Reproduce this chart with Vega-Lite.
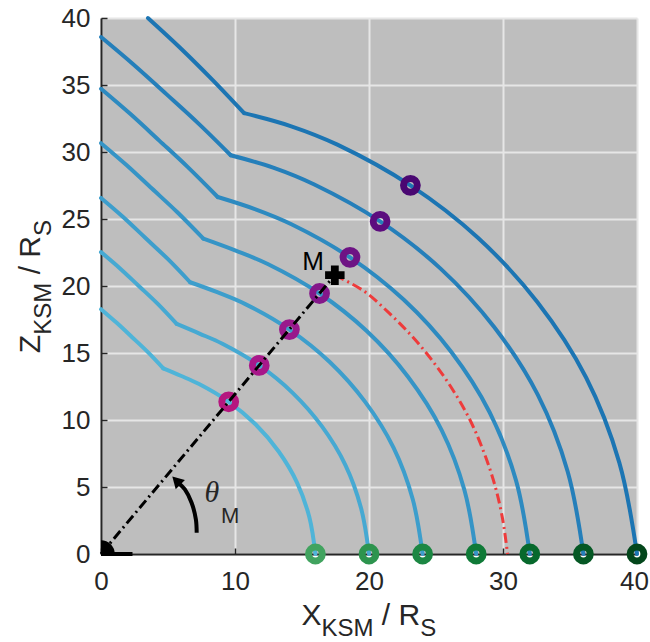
{
  "$schema": "https://vega.github.io/schema/vega-lite/v6.json",
  "width": 536,
  "height": 536,
  "autosize": {"type": "none"},
  "padding": {"left": 101, "top": 18, "right": 13, "bottom": 88},
  "background": "white",
  "config": {
    "view": {"fill": "#bebebe", "stroke": null},
    "axis": {"title": null, "grid": true, "gridColor": "#e6e6e6", "gridWidth": 2, "domainColor": "#262626", "domainWidth": 2, "ticks": true, "tickSize": -6, "tickColor": "#262626", "tickWidth": 1.5, "labelFont": "Liberation Sans", "labelFontSize": 26, "labelColor": "#262626", "labelFlush": false, "labelOverlap": false},
    "axisX": {"labelPadding": 20},
    "axisY": {"labelPadding": 17}
  },
  "datasets": {
    "curves": [
      {"F":16,"s":0,"i":0,"x":16,"z":0},{"F":16,"s":0,"i":1,"x":15.55,"z":2.74},{"F":16,"s":0,"i":2,"x":14.63,"z":5.33},{"F":16,"s":0,"i":3,"x":13.26,"z":7.65},{"F":16,"s":0,"i":4,"x":11.53,"z":9.68},{"F":16,"s":0,"i":5,"x":9.53,"z":11.36},{"F":16,"s":0,"i":6,"x":7.32,"z":12.68},{"F":16,"s":0,"i":7,"x":5.95,"z":13.3},{"F":16,"s":0,"i":8,"x":4.65,"z":13.85},
      {"F":16,"s":1,"i":8,"x":4.65,"z":13.85},{"F":16,"s":1,"i":9,"x":3.5,"z":15.06},{"F":16,"s":1,"i":10,"x":2.3,"z":16.2},{"F":16,"s":1,"i":11,"x":1.15,"z":17.27},{"F":16,"s":1,"i":12,"x":0,"z":18.27},
      {"F":20,"s":0,"i":0,"x":20,"z":0},{"F":20,"s":0,"i":1,"x":19.41,"z":3.42},{"F":20,"s":0,"i":2,"x":18.24,"z":6.64},{"F":20,"s":0,"i":3,"x":16.49,"z":9.52},{"F":20,"s":0,"i":4,"x":14.32,"z":12.01},{"F":20,"s":0,"i":5,"x":11.81,"z":14.07},{"F":20,"s":0,"i":6,"x":9.06,"z":15.69},{"F":20,"s":0,"i":7,"x":7.35,"z":16.45},{"F":20,"s":0,"i":8,"x":5.65,"z":17.17},
      {"F":20,"s":1,"i":8,"x":5.65,"z":17.17},{"F":20,"s":1,"i":9,"x":4.2,"z":18.7},{"F":20,"s":1,"i":10,"x":2.8,"z":20.02},{"F":20,"s":1,"i":11,"x":1.4,"z":21.33},{"F":20,"s":1,"i":12,"x":0,"z":22.53},
      {"F":24,"s":0,"i":0,"x":24,"z":0},{"F":24,"s":0,"i":1,"x":23.26,"z":4.1},{"F":24,"s":0,"i":2,"x":21.83,"z":7.94},{"F":24,"s":0,"i":3,"x":19.7,"z":11.37},{"F":24,"s":0,"i":4,"x":17.07,"z":14.33},{"F":24,"s":0,"i":5,"x":14.06,"z":16.75},{"F":24,"s":0,"i":6,"x":10.77,"z":18.65},{"F":24,"s":0,"i":7,"x":8.72,"z":19.52},{"F":24,"s":0,"i":8,"x":6.65,"z":20.28},
      {"F":24,"s":1,"i":8,"x":6.65,"z":20.28},{"F":24,"s":1,"i":9,"x":5.0,"z":22.0},{"F":24,"s":1,"i":10,"x":3.3,"z":23.6},{"F":24,"s":1,"i":11,"x":1.65,"z":25.15},{"F":24,"s":1,"i":12,"x":0,"z":26.57},
      {"F":28,"s":0,"i":0,"x":28,"z":0},{"F":28,"s":0,"i":1,"x":27.12,"z":4.78},{"F":28,"s":0,"i":2,"x":25.42,"z":9.25},{"F":28,"s":0,"i":3,"x":22.91,"z":13.23},{"F":28,"s":0,"i":4,"x":19.83,"z":16.64},{"F":28,"s":0,"i":5,"x":16.31,"z":19.44},{"F":28,"s":0,"i":6,"x":12.48,"z":21.62},{"F":28,"s":0,"i":7,"x":10.1,"z":22.62},{"F":28,"s":0,"i":8,"x":7.64,"z":23.53},
      {"F":28,"s":1,"i":8,"x":7.64,"z":23.53},{"F":28,"s":1,"i":9,"x":5.7,"z":25.5},{"F":28,"s":1,"i":10,"x":3.8,"z":27.27},{"F":28,"s":1,"i":11,"x":1.9,"z":29.03},{"F":28,"s":1,"i":12,"x":0,"z":30.66},
      {"F":32,"s":0,"i":0,"x":32,"z":0},{"F":32,"s":0,"i":1,"x":30.98,"z":5.46},{"F":32,"s":0,"i":2,"x":29.01,"z":10.56},{"F":32,"s":0,"i":3,"x":26.13,"z":15.09},{"F":32,"s":0,"i":4,"x":22.6,"z":18.97},{"F":32,"s":0,"i":5,"x":18.58,"z":22.14},{"F":32,"s":0,"i":6,"x":14.21,"z":24.61},{"F":32,"s":0,"i":7,"x":11.48,"z":25.74},{"F":32,"s":0,"i":8,"x":8.71,"z":26.64},
      {"F":32,"s":1,"i":8,"x":8.71,"z":26.64},{"F":32,"s":1,"i":9,"x":6.5,"z":28.85},{"F":32,"s":1,"i":10,"x":4.35,"z":30.85},{"F":32,"s":1,"i":11,"x":2.2,"z":32.83},{"F":32,"s":1,"i":12,"x":0,"z":34.72},
      {"F":36,"s":0,"i":0,"x":36,"z":0},{"F":36,"s":0,"i":1,"x":34.83,"z":6.14},{"F":36,"s":0,"i":2,"x":32.6,"z":11.87},{"F":36,"s":0,"i":3,"x":29.34,"z":16.94},{"F":36,"s":0,"i":4,"x":25.36,"z":21.28},{"F":36,"s":0,"i":5,"x":20.83,"z":24.82},{"F":36,"s":0,"i":6,"x":15.92,"z":27.57},{"F":36,"s":0,"i":7,"x":12.85,"z":28.83},{"F":36,"s":0,"i":8,"x":9.68,"z":29.76},
      {"F":36,"s":1,"i":8,"x":9.68,"z":29.76},{"F":36,"s":1,"i":9,"x":7.3,"z":32.1},{"F":36,"s":1,"i":10,"x":4.9,"z":34.3},{"F":36,"s":1,"i":11,"x":2.4,"z":36.55},{"F":36,"s":1,"i":12,"x":0,"z":38.58},
      {"F":40,"s":0,"i":0,"x":40,"z":0},{"F":40,"s":0,"i":1,"x":38.68,"z":6.82},{"F":40,"s":0,"i":2,"x":36.2,"z":13.17},{"F":40,"s":0,"i":3,"x":32.56,"z":18.8},{"F":40,"s":0,"i":4,"x":28.13,"z":23.6},{"F":40,"s":0,"i":5,"x":23.09,"z":27.51},{"F":40,"s":0,"i":6,"x":17.64,"z":30.55},{"F":40,"s":0,"i":7,"x":14.2,"z":31.92},{"F":40,"s":0,"i":8,"x":10.68,"z":32.9},
      {"F":40,"s":1,"i":8,"x":10.68,"z":32.9},{"F":40,"s":1,"i":9,"x":8.3,"z":35.4},{"F":40,"s":1,"i":10,"x":5.9,"z":37.78},{"F":40,"s":1,"i":11,"x":3.5,"z":40}
    ],
    "diag": [
      {"F":16,"x":9.53,"z":11.36},{"F":20,"x":11.81,"z":14.07},{"F":24,"x":14.06,"z":16.75},{"F":28,"x":16.31,"z":19.44},{"F":32,"x":18.58,"z":22.14},{"F":36,"x":20.83,"z":24.82},{"F":40,"x":23.09,"z":27.51}
    ],
    "foot": [
      {"F":16,"x":16,"z":0},{"F":20,"x":20,"z":0},{"F":24,"x":24,"z":0},{"F":28,"x":28,"z":0},{"F":32,"x":32,"z":0},{"F":36,"x":36,"z":0},{"F":40,"x":40,"z":0}
    ],
    "redarc": [
      {"i":0,"x":17.45,"z":20.81},{"i":1,"x":19.62,"z":19.62},{"i":2,"x":21.47,"z":18.01},{"i":3,"x":23.21,"z":16.25},{"i":4,"x":24.81,"z":14.32},{"i":5,"x":26.26,"z":12.24},{"i":6,"x":27.53,"z":10.02},{"i":7,"x":28.55,"z":7.65},{"i":8,"x":29.38,"z":5.18},{"i":9,"x":29.97,"z":2.62},{"i":10,"x":30.34,"z":0}
    ],
    "mline": [
      {"i":0,"x":0,"z":0},{"i":1,"x":17.45,"z":20.81}
    ],
    "arrow": [
      {"i":0,"x":7.14,"z":1.58},{"i":1,"x":7.08,"z":2.58},{"i":2,"x":6.76,"z":3.83},{"i":3,"x":6.26,"z":4.82},{"i":4,"x":5.85,"z":5.25}
    ],
    "arrowhead": [{"x":5.62,"z":5.48}],
    "mpoint": [{"x":17.45,"z":20.81}],
    "saturn": [{"x":0,"z":0}],
    "rings": [{"i":0,"x":0,"z":0},{"i":1,"x":2.35,"z":0}],
    "mlabel": [{"t":"M","x":15.83,"z":21.21}],
    "titlemain": [
      {"t":"X","x":14.97,"z":-5.27},{"t":"/","x":20.96,"z":-5.27},{"t":"R","x":22.21,"z":-5.27}
    ],
    "titlesub": [
      {"t":"KSM","x":16.46,"z":-6.09},{"t":"S","x":23.83,"z":-6.09}
    ],
    "ytitlemain": [
      {"t":"Z","x":-4.55,"z":14.99},{"t":"/","x":-4.55,"z":20.87},{"t":"R","x":-4.55,"z":22.11}
    ],
    "ytitlesub": [
      {"t":"KSM","x":-3.73,"z":16.36},{"t":"S","x":-3.73,"z":23.74}
    ],
    "theta": [{"t":"θ","x":7.72,"z":3.85}],
    "thetasub": [{"t":"M","x":8.95,"z":2.28}]
  },
  "encoding": {
    "x": {"field": "x", "type": "quantitative", "scale": {"domain": [0, 40], "nice": false}, "axis": {"values": [0,10,20,30,40], "labelOffset": {"condition": {"test": "datum.value === 40", "value": -3}, "value": 0}}},
    "y": {"field": "z", "type": "quantitative", "scale": {"domain": [0, 40], "nice": false}, "axis": {"values": [0,5,10,15,20,25,30,35,40]}}
  },
  "layer": [
    {
      "data": {"name": "curves"},
      "mark": {"type": "line", "strokeWidth": 4, "strokeCap": "round", "strokeJoin": "round", "interpolate": "catmull-rom"},
      "encoding": {
        "stroke": {"field": "F", "type": "ordinal", "legend": null, "scale": {"domain": [16,20,24,28,32,36,40], "range": ["#4fb4d8","#46a9d2","#3d9ecc","#3594c6","#2d8ac0","#257fba","#1c75b3"]}},
        "detail": {"field": "s", "type": "nominal"},
        "order": {"field": "i", "type": "quantitative"}
      }
    },
    {
      "data": {"name": "redarc"},
      "mark": {"type": "line", "stroke": "#ee3b3b", "strokeWidth": 3, "strokeDash": [10, 4, 2, 4], "interpolate": "catmull-rom"},
      "encoding": {"order": {"field": "i", "type": "quantitative"}}
    },
    {
      "data": {"name": "diag"},
      "mark": {"type": "point", "shape": "circle", "filled": false, "size": 190, "strokeWidth": 7, "opacity": 1},
      "encoding": {
        "stroke": {"field": "F", "type": "ordinal", "legend": null, "scale": {"domain": [16,20,24,28,32,36,40], "range": ["#b5177f","#a8178a","#99198c","#84178a","#6e1384","#5c0c7e","#4a0872"]}}
      }
    },
    {
      "data": {"name": "foot"},
      "mark": {"type": "point", "shape": "circle", "filled": false, "size": 190, "strokeWidth": 7, "opacity": 1},
      "encoding": {
        "stroke": {"field": "F", "type": "ordinal", "legend": null, "scale": {"domain": [16,20,24,28,32,36,40], "range": ["#41a35f","#2d944e","#1c8743","#0f7a37","#07692c","#055824","#03461b"]}}
      }
    },
    {
      "data": {"name": "mline"},
      "mark": {"type": "line", "stroke": "black", "strokeWidth": 3, "strokeDash": [10, 4, 2, 4]},
      "encoding": {"order": {"field": "i", "type": "quantitative"}}
    },
    {
      "data": {"name": "arrow"},
      "mark": {"type": "line", "stroke": "black", "strokeWidth": 4, "interpolate": "catmull-rom"},
      "encoding": {"order": {"field": "i", "type": "quantitative"}}
    },
    {
      "data": {"name": "arrowhead"},
      "mark": {"type": "point", "shape": "triangle-up", "filled": true, "color": "black", "size": 170, "angle": 315, "opacity": 1}
    },
    {
      "data": {"name": "mpoint"},
      "mark": {"type": "point", "shape": "cross", "filled": true, "color": "black", "size": 380, "opacity": 1}
    },
    {
      "data": {"name": "saturn"},
      "mark": {"type": "point", "shape": "circle", "filled": true, "color": "black", "size": 760, "opacity": 1, "clip": true}
    },
    {
      "data": {"name": "rings"},
      "mark": {"type": "line", "stroke": "black", "strokeWidth": 4},
      "encoding": {"order": {"field": "i", "type": "quantitative"}}
    },
    {
      "data": {"name": "mlabel"},
      "mark": {"type": "text", "font": "Liberation Sans", "fontSize": 26, "align": "center", "baseline": "alphabetic", "color": "black"},
      "encoding": {"text": {"field": "t"}}
    },
    {
      "data": {"name": "titlemain"},
      "mark": {"type": "text", "font": "Liberation Sans", "fontSize": 30, "align": "left", "baseline": "alphabetic", "color": "#262626"},
      "encoding": {"text": {"field": "t"}}
    },
    {
      "data": {"name": "titlesub"},
      "mark": {"type": "text", "font": "Liberation Sans", "fontSize": 24, "align": "left", "baseline": "alphabetic", "color": "#262626"},
      "encoding": {"text": {"field": "t"}}
    },
    {
      "data": {"name": "ytitlemain"},
      "mark": {"type": "text", "font": "Liberation Sans", "fontSize": 30, "align": "left", "baseline": "alphabetic", "angle": 270, "color": "#262626"},
      "encoding": {"text": {"field": "t"}}
    },
    {
      "data": {"name": "ytitlesub"},
      "mark": {"type": "text", "font": "Liberation Sans", "fontSize": 24, "align": "left", "baseline": "alphabetic", "angle": 270, "color": "#262626"},
      "encoding": {"text": {"field": "t"}}
    },
    {
      "data": {"name": "theta"},
      "mark": {"type": "text", "font": "Liberation Serif", "fontStyle": "italic", "fontSize": 30, "align": "left", "baseline": "alphabetic", "color": "#262626"},
      "encoding": {"text": {"field": "t"}}
    },
    {
      "data": {"name": "thetasub"},
      "mark": {"type": "text", "font": "Liberation Sans", "fontSize": 22, "align": "left", "baseline": "alphabetic", "color": "#262626"},
      "encoding": {"text": {"field": "t"}}
    }
  ],
  "resolve": {"scale": {"stroke": "independent"}}
}
